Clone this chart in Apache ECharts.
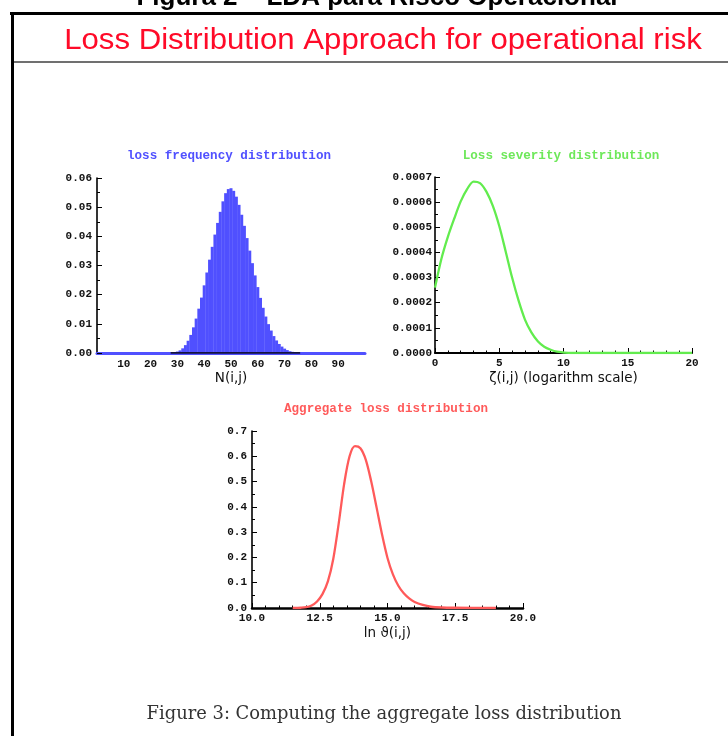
<!DOCTYPE html>
<html><head><meta charset="utf-8">
<script src="https://cdn.jsdelivr.net/npm/echarts@6/dist/echarts.min.js"></script>
<style>html,body{margin:0;padding:0;background:#fff}#c{width:728px;height:736px}</style>
</head><body><div id="c"></div>
<script>
// ---- Loss frequency distribution (histogram, N(i,j)) ----
const freqN = [28,29,30,31,32,33,34,35,36,37,38,39,40,41,42,43,44,45,46,47,48,49,50,51,52,53,54,55,56,57,58,59,60,61,62,63,64,65,66,67,68,69,70,71,72,73,74,75];
const freqP = [0.0002,0.0003,0.0005,0.0009,0.0016,0.0027,0.0042,0.0062,0.0088,0.0118,0.0152,0.0190,0.0232,0.0276,0.0320,0.0364,0.0406,0.0446,0.0484,0.0520,0.0548,0.0562,0.0565,0.0556,0.0536,0.0508,0.0474,0.0436,0.0394,0.0351,0.0308,0.0266,0.0226,0.0189,0.0155,0.0125,0.0099,0.0077,0.0058,0.0043,0.0031,0.0022,0.0015,0.0010,0.0006,0.0004,0.0002,0.0001];
const freqSupport = [27.5, 75.8];

// ---- Loss severity distribution ----
const sevX = [0, 0.5, 1.0, 1.5, 2.0, 2.5, 3.0, 3.5, 4.0, 4.5, 5.0, 5.5, 6.0, 6.5, 7.0, 7.5, 8.0, 8.5, 9.0, 9.5, 10.0, 10.6, 20];
const sevY = [0.00026, 0.000375, 0.000462, 0.000535, 0.000603, 0.000652, 0.000682, 0.000676, 0.000642, 0.000585, 0.000505, 0.000404, 0.0003, 0.000209, 0.000133, 0.000082, 0.000047, 0.000025, 0.000013, 0.000005, 0.000002, 0, 0];

// ---- Aggregate loss distribution ----
const aggX = [11.5, 11.8, 12.0, 12.2, 12.4, 12.6, 12.8, 13.0, 13.2, 13.4, 13.6, 13.8, 14.0, 14.2, 14.4, 14.6, 14.8, 15.0, 15.2, 15.4, 15.6, 15.8, 16.0, 16.3, 16.6, 17.0, 17.5, 19.0];
const aggY = [0, 0.001, 0.003, 0.010, 0.026, 0.055, 0.105, 0.195, 0.335, 0.490, 0.600, 0.640, 0.632, 0.586, 0.500, 0.396, 0.290, 0.198, 0.133, 0.088, 0.058, 0.038, 0.024, 0.012, 0.005, 0.002, 0.001, 0];

// ---- Texts ----
const pageHeading = 'Figura 2 – LDA para Risco Operacional';
const mainTitle = 'Loss Distribution Approach for operational risk';
const panelTitles = ['loss frequency distribution', 'Loss severity distribution', 'Aggregate loss distribution'];
const axisNames = ['N(i,j)', 'ζ(i,j) (logarithm scale)', 'ln ϑ(i,j)'];
const caption = 'Figure 3: Computing the aggregate loss distribution';

const BLUE = '#5050ff', GREEN = '#62ec4e', RED = '#ff5a5a';
const tickFont = {fontFamily: 'Liberation Mono', fontSize: 11, fontWeight: 'bold', color: '#111'};
const nameFont = {fontFamily: 'DejaVu Sans', fontSize: 13.5, color: '#111'};

function yAxisCfg(grid, max, interval, digits, margin) {
  return {
    gridIndex: grid, type: 'value', min: 0, max: max, interval: interval,
    axisLine: {show: true, lineStyle: {color: '#000', width: 1.6}},
    axisTick: {show: true, inside: true, length: 5, lineStyle: {color: '#000', width: 1}},
    minorTick: {show: true, splitNumber: 2, length: 3, lineStyle: {color: '#000', width: 1}},
    splitLine: {show: false}, minorSplitLine: {show: false},
    axisLabel: Object.assign({}, tickFont, {margin: margin, formatter: v => Number(v).toFixed(digits)})
  };
}

function txt(text, x, y, font, fill, sx) {
  return {
    type: 'text', x: x, y: y, silent: true, scaleX: sx || 1,
    style: {text: text, font: font, fill: fill, textAlign: 'center', textVerticalAlign: 'middle', align: 'center', verticalAlign: 'middle'}
  };
}

const chart = echarts.init(document.getElementById('c'));
chart.setOption({
  animation: false,
  backgroundColor: '#fff',
  grid: [
    {left: 97, top: 178, width: 268, height: 175},
    {left: 435, top: 177, width: 257, height: 176},
    {left: 252, top: 431, width: 271, height: 177}
  ],
  xAxis: [
    {gridIndex: 0, type: 'value', min: 0, max: 100, interval: 10,
     axisLine: {show: true, onZero: false, lineStyle: {color: BLUE, width: 3}},
     axisTick: {show: false}, splitLine: {show: false},
     axisLabel: Object.assign({}, tickFont, {margin: 6, formatter: v => (v > 0 && v < 100) ? String(v) : ''}),
     name: axisNames[0], nameLocation: 'middle', nameGap: 18, nameTextStyle: nameFont},
    {gridIndex: 1, type: 'value', min: 0, max: 20, interval: 5,
     axisLine: {show: true, onZero: false, lineStyle: {color: '#000', width: 2}},
     axisTick: {show: true, inside: true, length: 5, lineStyle: {color: '#000'}},
     minorTick: {show: true, splitNumber: 5, length: 2.5, lineStyle: {color: '#000'}},
     splitLine: {show: false},
     axisLabel: Object.assign({}, tickFont, {margin: 5, formatter: v => String(v)}),
     name: axisNames[1], nameLocation: 'middle', nameGap: 18, nameTextStyle: nameFont},
    {gridIndex: 2, type: 'value', min: 10, max: 20, interval: 2.5,
     axisLine: {show: true, onZero: false, lineStyle: {color: '#000', width: 2.5}},
     axisTick: {show: true, inside: true, length: 5, lineStyle: {color: '#000'}},
     minorTick: {show: true, splitNumber: 5, length: 2.5, lineStyle: {color: '#000'}},
     splitLine: {show: false},
     axisLabel: Object.assign({}, tickFont, {margin: 5, formatter: v => Number(v).toFixed(1)}),
     name: axisNames[2], nameLocation: 'middle', nameGap: 18, nameTextStyle: nameFont}
  ],
  yAxis: [
    yAxisCfg(0, 0.06, 0.01, 2, 5),
    yAxisCfg(1, 0.0007, 0.0001, 4, 3),
    yAxisCfg(2, 0.7, 0.1, 1, 5)
  ],
  series: [
    {type: 'bar', xAxisIndex: 0, yAxisIndex: 0, barWidth: 3, z: 3,
     itemStyle: {color: BLUE}, data: freqN.map((n, i) => [n, freqP[i]])},
    {type: 'line', xAxisIndex: 0, yAxisIndex: 0, symbol: 'none', z: 4,
     lineStyle: {color: '#000', width: 1.5}, data: freqSupport.map(x => [x, 0])},
    {type: 'line', xAxisIndex: 1, yAxisIndex: 1, symbol: 'none', smooth: 0.3, z: 4,
     lineStyle: {color: GREEN, width: 2.3}, data: sevX.map((x, i) => [x, sevY[i]])},
    {type: 'line', xAxisIndex: 2, yAxisIndex: 2, symbol: 'none', smooth: 0.3, z: 4,
     lineStyle: {color: RED, width: 2.3}, data: aggX.map((x, i) => [x, aggY[i]])}
  ],
  graphic: [
    {type: 'line', silent: true, shape: {x1: 10, y1: 13.5, x2: 728, y2: 13.5}, style: {stroke: '#000', lineWidth: 3}},
    {type: 'line', silent: true, shape: {x1: 12.5, y1: 12, x2: 12.5, y2: 736}, style: {stroke: '#000', lineWidth: 3}},
    {type: 'line', silent: true, shape: {x1: 14, y1: 62, x2: 728, y2: 62}, style: {stroke: '#707070', lineWidth: 2}},
    txt(pageHeading, 377, -2, 'bold 26px "Liberation Sans"', '#000'),
    txt(mainTitle, 383, 40.5, '29px "Liberation Sans"', '#ff0a28', 1.075),
    txt(panelTitles[0], 229, 156, 'bold 12.6px "Liberation Mono"', BLUE),
    txt(panelTitles[1], 561, 156, 'bold 12.6px "Liberation Mono"', '#6ee85a'),
    txt(panelTitles[2], 386, 409, 'bold 12.6px "Liberation Mono"', '#ff5a5a'),
    txt(caption, 384, 714, '17.9px "DejaVu Serif"', '#333')
  ]
});
</script>
</body></html>
